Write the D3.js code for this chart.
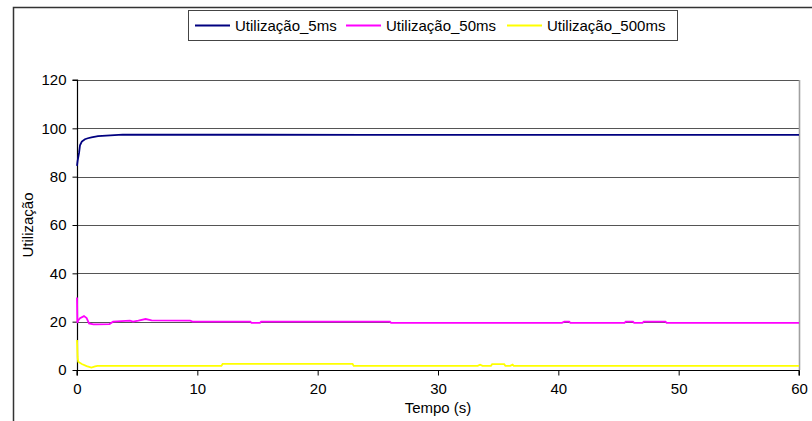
<!DOCTYPE html>
<html>
<head>
<meta charset="utf-8">
<script src="https://cdn.jsdelivr.net/npm/d3@7"></script>
<style>
html,body{margin:0;padding:0;background:#fff;}
svg{display:block;}
text{font-family:"Liberation Sans",Arial,sans-serif;}
</style>
</head>
<body>
<svg id="c" width="812" height="421"></svg>
<script>
// ---- data ----
const seriesNames = ["Utilização_5ms", "Utilização_50ms", "Utilização_500ms"];
const seriesColors = ["#000080", "#FF00FF", "#FFFF00"];

const t5 = [0, 0.05, 0.17, 0.25, 0.4, 0.66, 0.9, 1.2, 1.75, 3.8, 24, 36, 60];
const u5 = [84.5, 86.5, 89.8, 93, 94.5, 95.5, 95.9, 96.3, 96.8, 97.4, 97.3, 97.3, 97.3];

const t50 = [0, 0.03, 0.1, 0.25, 0.58, 0.8, 1.0, 1.36, 1.6, 2.7, 3.0, 4.4, 4.65, 5.1, 5.7, 6.2, 9.4, 9.6, 14.4, 14.5, 15.2, 15.3, 26, 26.1, 40.3, 40.5, 40.9, 41, 45.5, 45.6, 46.2, 46.3, 47, 47.1, 48.9, 49, 60];
const u50 = [30, 19.5, 20.5, 21.4, 22.3, 21.5, 19.3, 18.9, 18.9, 19, 20, 20.4, 20, 20.4, 21.1, 20.5, 20.4, 20, 20, 19.5, 19.5, 20, 20, 19.5, 19.5, 20, 20, 19.5, 19.5, 20, 20, 19.5, 19.5, 20, 20, 19.5, 19.5];

const t500 = [0, 0.05, 0.1, 0.4, 0.8, 1.2, 1.5, 1.7, 12.0, 12.1, 22.9, 23.0, 33.3, 33.5, 33.7, 34.4, 34.5, 35.5, 35.6, 36.0, 36.2, 36.3, 60];
const u500 = [12.4, 5.4, 3.4, 2.5, 1.6, 1.0, 1.5, 1.7, 1.7, 2.5, 2.5, 1.7, 1.7, 2.2, 1.7, 1.7, 2.4, 2.4, 1.7, 1.7, 2.2, 1.7, 1.7];

const yTicks = [0, 20, 40, 60, 80, 100, 120];
const xTicks = [0, 10, 20, 30, 40, 50, 60];

// ---- layout ----
const svg = d3.select("#c");
const L = 77, R = 799, T = 80, B = 370;
const x = d3.scaleLinear().domain([0, 60]).range([L, R]);
const y = d3.scaleLinear().domain([0, 120]).range([B, T]);

// outer frame
svg.append("path")
  .attr("d", "M13.5,421 L13.5,7.5 L812,7.5")
  .attr("fill", "none").attr("stroke", "#333").attr("stroke-width", 1.5);

// gridlines
svg.append("g").selectAll("line").data(yTicks.filter(d => d > 0)).join("line")
  .attr("x1", L).attr("x2", R)
  .attr("y1", d => Math.round(y(d)) + 0.5).attr("y2", d => Math.round(y(d)) + 0.5)
  .attr("stroke", "#555").attr("stroke-width", 1);

// right plot border
svg.append("line").attr("x1", R + 0.5).attr("x2", R + 0.5).attr("y1", T).attr("y2", B)
  .attr("stroke", "#a0a0a0").attr("stroke-width", 1.6);

// axes
const yAxis = d3.axisLeft(y).tickValues(yTicks).tickSize(5).tickPadding(6);
const gy = svg.append("g").attr("transform", `translate(${L + 0.5},0)`).call(yAxis);
const xAxis = d3.axisBottom(x).tickValues(xTicks).tickSize(5).tickPadding(8);
const gx = svg.append("g").attr("transform", `translate(0,${B + 0.5})`).call(xAxis);
[gy, gx].forEach(g => {
  g.select(".domain").attr("stroke", "#000").attr("stroke-width", 1.2);
  g.selectAll(".tick line").attr("stroke", "#000");
  g.selectAll(".tick text").attr("font-size", "15px").attr("fill", "#000")
    .attr("font-family", "'Liberation Sans', Arial, sans-serif");
});
gy.select(".domain").attr("d", `M-5,${T}H0V${B}`);
gx.select(".domain").attr("d", `M${L},5V0H${R}V5`);

// lines
const data = [
  t500.map((t, i) => [t, u500[i]]),
  t50.map((t, i) => [t, u50[i]]),
  t5.map((t, i) => [t, u5[i]])
];
const colorsDraw = [seriesColors[2], seriesColors[1], seriesColors[0]];
const line = d3.line().x(d => x(d[0])).y(d => y(d[1]));
data.forEach((d, i) => {
  svg.append("path").datum(d).attr("d", line)
    .attr("fill", "none").attr("stroke", colorsDraw[i]).attr("stroke-width", 1.8)
    .attr("stroke-linejoin", "miter");
});

// axis titles
svg.append("text").attr("x", (L + R) / 2).attr("y", 413).attr("text-anchor", "middle")
  .attr("font-size", "15px").text("Tempo (s)");
svg.append("text").attr("transform", "translate(33,225) rotate(-90)").attr("text-anchor", "middle")
  .attr("font-size", "15px").text("Utilização");

// legend
const lg = svg.append("g");
lg.append("rect").attr("x", 188.5).attr("y", 10.5).attr("width", 489).attr("height", 30)
  .attr("fill", "#fff").attr("stroke", "#444").attr("stroke-width", 1);
const legX = [195, 346, 507];
seriesNames.forEach((n, i) => {
  lg.append("line").attr("x1", legX[i]).attr("x2", legX[i] + 35).attr("y1", 25.5).attr("y2", 25.5)
    .attr("stroke", seriesColors[i]).attr("stroke-width", 1.8);
  lg.append("text").attr("x", legX[i] + 40).attr("y", 30.5).attr("font-size", "15px").text(n);
});
</script>
</body>
</html>
